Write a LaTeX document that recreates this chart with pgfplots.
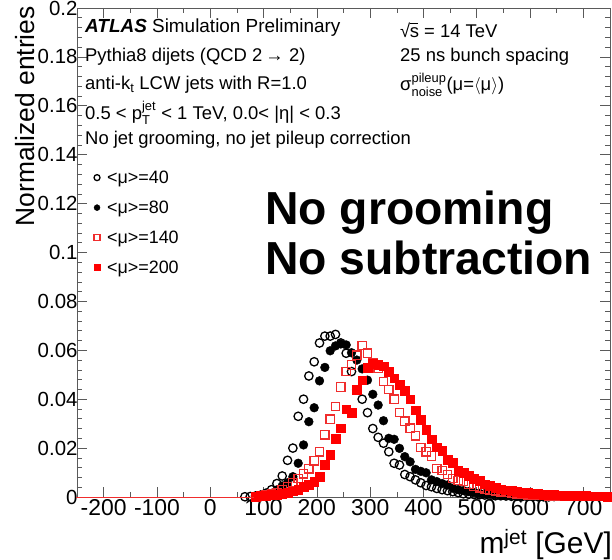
\documentclass[border=0pt]{standalone}
\usepackage{fontspec}
\setmainfont{Liberation Sans}
\usepackage{amsmath}
\usepackage{pgfplots}
\pgfplotsset{compat=1.18}
\definecolor{rred}{RGB}{255,0,0}
\definecolor{lred}{RGB}{240,45,45}
\definecolor{axgray}{RGB}{90,90,90}
\newcommand{\fs}[1]{\fontsize{#1}{#1}\selectfont}
\begin{document}
\begin{tikzpicture}
\begin{axis}[
  at={(0,0)}, anchor=south west,
  scale only axis, width=533bp, height=489bp,
  xmin=-250, xmax=750, ymin=0, ymax=0.2,
  xtick={-200,-100,0,100,200,300,400,500,600,700},
  xticklabels={-200,-100,0,100,200,300,400,500,600,700},
  minor x tick num=1,
  ytick={0,0.02,0.04,0.06,0.08,0.1,0.12,0.14,0.16,0.18,0.2},
  yticklabels={0,0.02,0.04,0.06,0.08,0.1,0.12,0.14,0.16,0.18,0.2},
  minor y tick num=4,
  scaled y ticks=false,
  tick align=inside,
  major tick length=10bp, minor tick length=5bp,
  every tick/.style={axgray, line width=0.6pt},
  axis line style={axgray, line width=0.8pt},
  xticklabel style={font=\fs{23}, yshift=1bp},
  yticklabel style={font=\fs{20.5}, xshift=4bp},
  legend style={draw=none, fill=none, font=\fs{18}, at={(0.026,0.676)}, anchor=north west, row sep=12bp,
    /tikz/every odd column/.append style={column sep=5bp}},
  legend image post style={mark size=3bp},
  legend cell align=left,
]
\addplot[only marks, mark=o, mark size=4.2bp, mark options={black, line width=1.3pt}] coordinates {
(65,0.0001)(75,0.0002)(85,0.0004)(95,0.0008)(105,0.0016)(115,0.003)(125,0.0055)(135,0.0086)(145,0.015)(155,0.020)(165,0.033)(175,0.040)(185,0.0495)(195,0.0553)(205,0.063)(215,0.0658)(225,0.0658)(235,0.0665)(245,0.063)(255,0.0588)(265,0.0513)(275,0.0438)(285,0.040)(295,0.0345)(305,0.028)(315,0.0244)(325,0.022)(335,0.0185)(345,0.0138)(355,0.0131)(365,0.0092)(375,0.0083)(385,0.007)(395,0.0058)(405,0.0047)(415,0.0042)(425,0.0035)(435,0.003)(445,0.0026)(455,0.0022)(465,0.0018)(475,0.0013)(485,0.0011)(495,0.001)(505,0.0009)(515,0.0008)(525,0.0006)(535,0.0005)(545,0.0005)(555,0.0004)(565,0.0003)(575,0.0003)(585,0.0002)(595,0.0002)(605,0.0002)(615,0.0001)(625,0.0001)(635,0.0001)
};
\addlegendentry{<μ>=40}
\addplot[only marks, mark=*, mark size=4.4bp, mark options={black, fill=black}] coordinates {
(85,0.0002)(95,0.0004)(105,0.0008)(115,0.0015)(125,0.0029)(135,0.0045)(145,0.0058)(155,0.0083)(165,0.0138)(175,0.0213)(185,0.0308)(195,0.0365)(205,0.0475)(215,0.053)(225,0.0598)(235,0.0618)(245,0.0626)(255,0.0622)(265,0.059)(275,0.056)(285,0.0524)(295,0.0478)(305,0.042)(315,0.0376)(325,0.0312)(335,0.024)(345,0.0236)(355,0.0199)(365,0.0165)(375,0.0144)(385,0.0113)(395,0.0105)(405,0.0099)(415,0.007)(425,0.0063)(435,0.0055)(445,0.0049)(455,0.0036)(465,0.003)(475,0.0026)(485,0.0022)(495,0.0018)(505,0.0015)(515,0.0013)(525,0.0011)(535,0.0009)(545,0.0008)(555,0.0007)(565,0.0006)(575,0.0005)(585,0.0004)(595,0.0003)(605,0.0003)(615,0.0002)(625,0.0002)(635,0.0001)(645,0.0001)
};
\addlegendentry{<μ>=80}
\addplot[only marks, mark=square, mark size=4.2bp, mark options={lred, line width=1.2pt}] coordinates {
(95,0.0003)(105,0.0008)(115,0.0012)(125,0.0018)(135,0.003)(145,0.0042)(155,0.0058)(165,0.0075)(175,0.0095)(185,0.0115)(195,0.0148)(205,0.0185)(215,0.0254)(225,0.0318)(235,0.037)(245,0.045)(255,0.0513)(265,0.054)(275,0.058)(285,0.062)(295,0.0588)(305,0.055)(315,0.0526)(325,0.0472)(335,0.044)(345,0.040)(355,0.0345)(365,0.031)(375,0.0281)(385,0.025)(395,0.0203)(405,0.0185)(415,0.0168)(425,0.0117)(435,0.0108)(445,0.0092)(455,0.0076)(465,0.0068)(475,0.0063)(485,0.0052)(495,0.0045)(505,0.0038)(515,0.0033)(525,0.0028)(535,0.0025)(545,0.0021)(555,0.0018)(565,0.0015)(575,0.0013)(585,0.0011)(595,0.0009)(605,0.0008)(615,0.0007)(625,0.0006)(635,0.0005)(645,0.0004)(655,0.0004)(665,0.0003)(675,0.0003)(685,0.0002)(695,0.0002)(705,0.0002)
};
\addlegendentry{<μ>=140}
\addplot[only marks, mark=square*, mark size=4.4bp, mark options={rred, fill=rred}] coordinates {
(85,0.0002)(95,0.0004)(105,0.0006)(115,0.0008)(125,0.0011)(135,0.0015)(145,0.0019)(155,0.0024)(165,0.0029)(175,0.0042)(185,0.005)(195,0.0062)(205,0.0083)(215,0.0131)(225,0.0172)(235,0.024)(245,0.0281)(255,0.0359)(265,0.0345)(275,0.0438)(285,0.0478)(295,0.053)(305,0.0545)(315,0.054)(325,0.0535)(335,0.0513)(345,0.0486)(355,0.0458)(365,0.0436)(375,0.040)(385,0.0355)(395,0.0315)(405,0.0276)(415,0.0236)(425,0.0204)(435,0.0188)(445,0.0151)(455,0.014)(465,0.0106)(475,0.0099)(485,0.0086)(495,0.0075)(505,0.0068)(515,0.0052)(525,0.0045)(535,0.0038)(545,0.0032)(555,0.0028)(565,0.0025)(575,0.0022)(585,0.0019)(595,0.0016)(605,0.0014)(615,0.0012)(625,0.0010)(635,0.0009)(645,0.0008)(655,0.0007)(665,0.0006)(675,0.0005)(685,0.0005)(695,0.0004)(705,0.0004)(715,0.0003)(725,0.0003)(735,0.0003)(745,0.0002)
};
\addlegendentry{<μ>=200}
\addplot[only marks, mark=-, mark size=3.5bp, mark options={lred, line width=1pt}, forget plot] coordinates {
(-245,0)(-235,0)(-225,0)(-215,0)(-205,0)(-195,0)(-185,0)(-175,0)(-165,0)(-155,0)(-145,0)(-135,0)(-125,0)(-115,0)(-105,0)(-95,0)(-85,0)(-75,0)(-65,0)(-55,0)(-45,0)(-35,0)(-25,0)(-15,0)(-5,0)(5,0)(15,0)(25,0)(35,0)(45,0)(55,0)(65,0)(75,0)
};
\end{axis}
% annotations (positions in bp from lower-left of axis box)
\node[anchor=west, inner sep=0] at (8bp,469bp) {\fs{19}\textbf{\textit{ATLAS}} Simulation Preliminary};
\node[anchor=west, inner sep=0] at (8bp,440bp) {\fs{18.5}Pythia8 dijets (QCD 2\,→ 2)};
\node[anchor=west, inner sep=0] at (8bp,412bp) {\fs{18.5}anti-k\textsubscript{t} LCW jets with R=1.0};
\node[anchor=west, inner sep=0] at (8bp,384bp) {\fs{18.5}0.5 < p$^{\text{jet}}_{\text{T}}$ < 1 TeV, 0.0< |η| < 0.3};
\node[anchor=west, inner sep=0] at (8bp,357bp) {\fs{18.5}No jet grooming, no jet pileup correction};
\node[anchor=west, inner sep=0] at (323bp,467bp) {\fs{18.5}√\kern-0.5pt\rlap{\raisebox{14pt}{\rule{8pt}{0.6pt}}}s = 14 TeV};
\node[anchor=west, inner sep=0] at (323bp,440bp) {\fs{18.5}25 ns bunch spacing};
\node[anchor=west, inner sep=0] at (323bp,412bp) {\fs{18.5}σ$^{\text{pileup}}_{\text{noise}}$(μ=$\langle$μ$\rangle$)};
\node[anchor=west, inner sep=0] at (188bp,284bp) {\fs{46.5}\textbf{No grooming}};
\node[anchor=west, inner sep=0] at (188bp,239bp) {\fs{46.5}\textbf{No subtraction}};
\node[rotate=90, anchor=east, inner sep=0] at (-52bp,491bp) {\fs{26.5}Normalized entries};
\node[anchor=east, inner sep=0] at (535bp,-48bp) {\fs{30}m$^{\text{jet}}$ [GeV]};
\pgfresetboundingbox
\path[use as bounding box] (-77bp,-63bp) rectangle (535bp,497bp);
\end{tikzpicture}
\end{document}
